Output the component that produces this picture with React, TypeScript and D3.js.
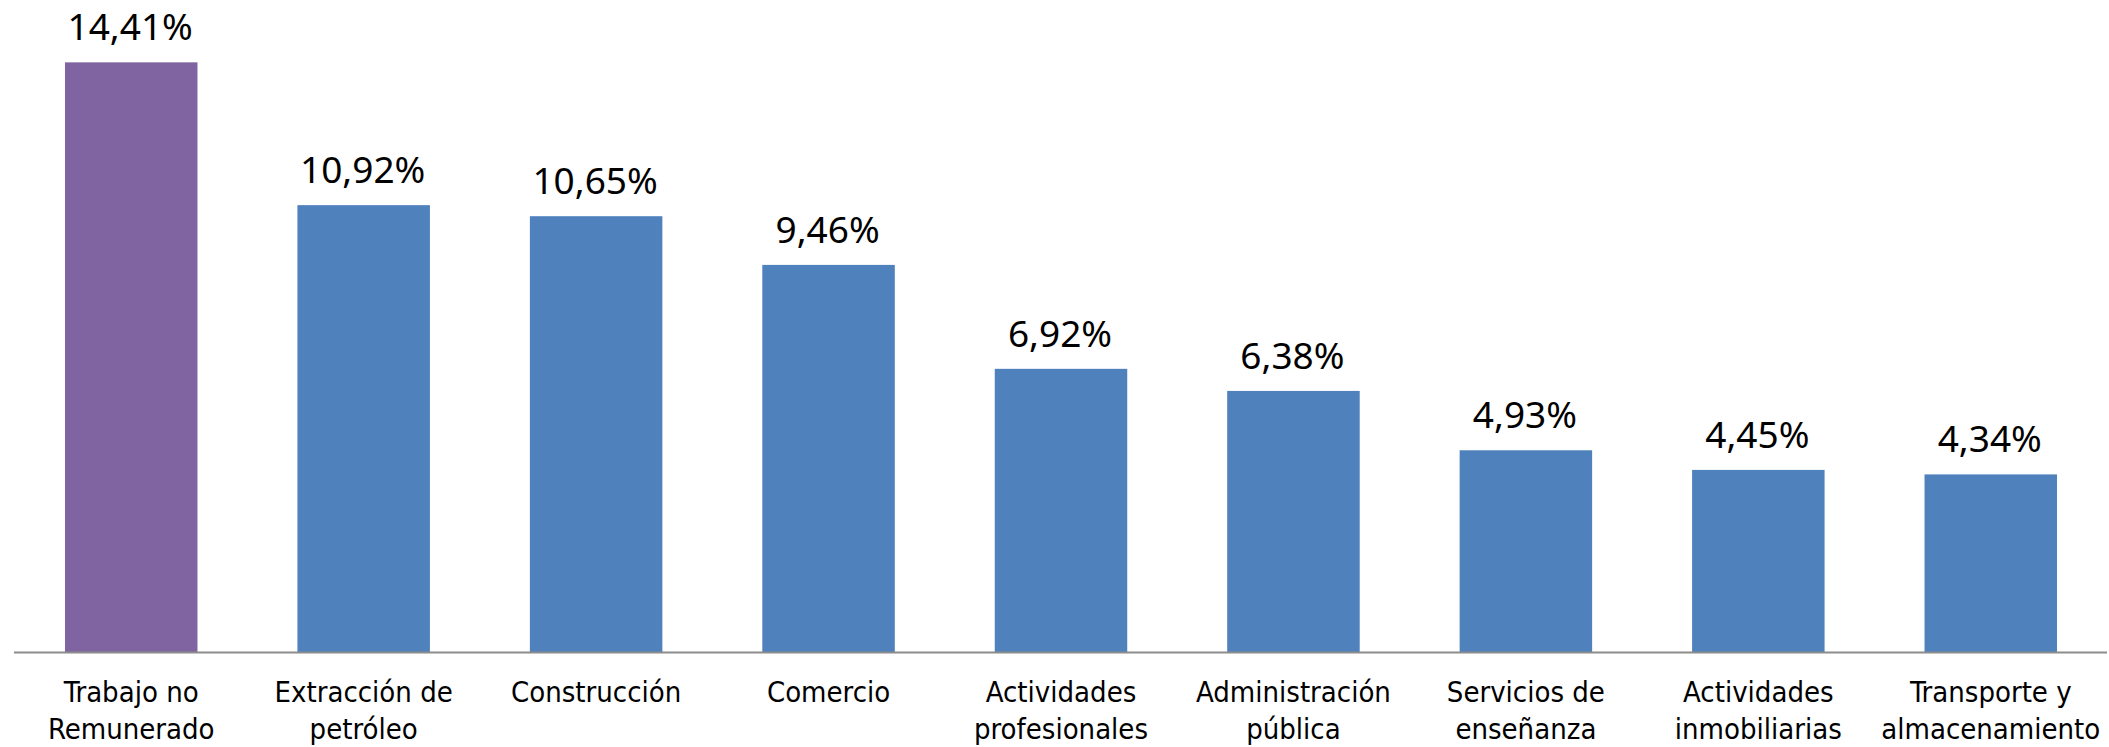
import * as d3 from 'd3';
import { useEffect, useRef } from 'react';

const categories = [
    ['Trabajo no', 'Remunerado'],
    ['Extracción de', 'petróleo'],
    ['Construcción'],
    ['Comercio'],
    ['Actividades', 'profesionales'],
    ['Administración', 'pública'],
    ['Servicios de', 'enseñanza'],
    ['Actividades', 'inmobiliarias'],
    ['Transporte y', 'almacenamiento'],
];
const values = [14.41, 10.92, 10.65, 9.46, 6.92, 6.38, 4.93, 4.45, 4.34];
const valueLabels = ['14,41%', '10,92%', '10,65%', '9,46%', '6,92%', '6,38%', '4,93%', '4,45%', '4,34%'];

export default function App() {
    const chartRef = useRef<SVGSVGElement | null>(null);

    useEffect(() => {
        if (!chartRef.current) return;
        document.body.style.margin = '0';
        const svg = d3.select(chartRef.current);
        svg.selectAll('*').remove();

        const width = 2109;
        const height = 747;
        const baseY = 652;

        const keys = categories.map((c) => c.join(' '));
        const x = d3.scaleBand().domain(keys).range([15, 2107]).paddingInner(0.43).paddingOuter(0.215);
        const y = d3.scaleLinear().domain([0, 16]).range([baseY, baseY - 16 * 40.92]);

        svg.attr('width', width).attr('height', height);

        svg.append('g')
            .selectAll('rect')
            .data(values)
            .join('rect')
            .attr('x', (_, i) => x(keys[i])!)
            .attr('y', (d) => y(d))
            .attr('width', x.bandwidth())
            .attr('height', (d) => y(0) - y(d))
            .attr('fill', (_, i) => (i === 0 ? '#8064A2' : '#4F81BD'));

        // etiquetas de valor
        svg.append('g')
            .selectAll('text')
            .data(values)
            .join('text')
            .attr('x', (_, i) => x(keys[i])! + x.bandwidth() / 2 - 1)
            .attr('y', (d) => y(d) - 22)
            .attr('text-anchor', 'middle')
            .style('font-family', '"Noto Sans", sans-serif')
            .style('font-size', '37px')
            .attr('fill', '#000')
            .text((_, i) => valueLabels[i]);

        // eje X
        svg.append('line')
            .attr('x1', 14)
            .attr('x2', 2107)
            .attr('y1', baseY + 0.5)
            .attr('y2', baseY + 0.5)
            .attr('stroke', '#8c8c8c')
            .attr('stroke-width', 2);

        const lab = svg.append('g')
            .selectAll('text')
            .data(categories)
            .join('text')
            .attr('text-anchor', 'middle')
            .style('font-family', '"Liberation Sans Narrow", "DejaVu Sans Condensed", sans-serif')
            .style('font-size', '29px')
            .attr('fill', '#000');

        lab.selectAll('tspan')
            .data((d, i) => d.map((t) => ({ t, i })))
            .join('tspan')
            .attr('x', (d) => x(keys[d.i])! + x.bandwidth() / 2)
            .attr('y', (_, j) => 702 + j * 37)
            .text((d) => d.t);
    }, []);

    return <svg ref={chartRef} style={{ display: 'block' }} />;
}
